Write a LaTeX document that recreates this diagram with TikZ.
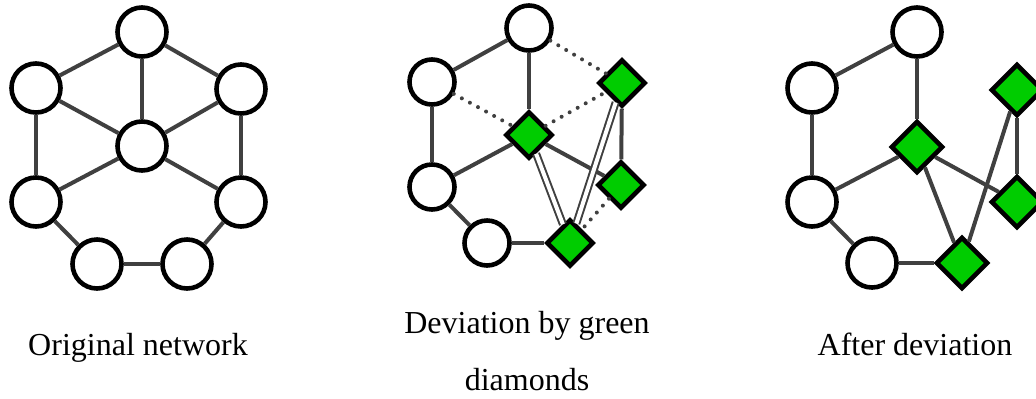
\documentclass[tikz,border=0pt]{standalone}
\usepackage{fontspec}
\setmainfont{Liberation Serif}
\usetikzlibrary{shapes.geometric}

\definecolor{devgreen}{RGB}{0,204,0}
\definecolor{edgegray}{RGB}{64,64,64}

\begin{document}
\begin{tikzpicture}[
  x=0.5pt, y=-0.5pt,
  vtx/.style={
    circle,
    draw=black,
    fill=white,
    line width=2.3pt,
    minimum size=24.5pt,
    inner sep=0pt
  },
  dev/.style={
    diamond,
    draw=black,
    fill=devgreen,
    line width=2.3pt,
    minimum size=26pt,
    inner sep=0pt
  },
  smallvtx/.style={vtx, minimum size=22.5pt},
  smalldev/.style={dev, minimum size=23.5pt},
  link/.style={draw=edgegray, line width=2pt},
  cut/.style={draw=edgegray, line width=2pt, line cap=round, dash pattern=on 0pt off 4.6pt},
  moved/.style={draw=edgegray, line width=1pt, double=white, double distance=2pt},
  caption/.style={font=\fontsize{16}{28.5}\selectfont, align=center, anchor=base}
]
\useasboundingbox (0,0) rectangle (1036,398);

% Original network
\node[vtx] (o1) at (142,32) {};
\node[vtx] (o2) at (36,88) {};
\node[vtx] (o3) at (241,89) {};
\node[vtx] (o4) at (142,146) {};
\node[vtx] (o5) at (36,202) {};
\node[vtx] (o6) at (241,202) {};
\node[vtx] (o7) at (97,264) {};
\node[vtx] (o8) at (187,264) {};

\draw[link] (o1) -- (o2);
\draw[link] (o1) -- (o3);
\draw[link] (o1) -- (o4);
\draw[link] (o2) -- (o4);
\draw[link] (o3) -- (o4);
\draw[link] (o2) -- (o5);
\draw[link] (o3) -- (o6);
\draw[link] (o4) -- (o5);
\draw[link] (o4) -- (o6);
\draw[link] (o5) -- (o7);
\draw[link] (o6) -- (o8);
\draw[link] (o7) -- (o8);

\node[caption] (lorig) at (138,355) {Original network};

% Deviation step
\node[smallvtx] (d1) at (529,28) {};
\node[smallvtx] (d2) at (432,82) {};
\node[smalldev] (d3) at (529,135) {};
\node[smalldev] (d4) at (622,83) {};
\node[smallvtx] (d5) at (432,187) {};
\node[smalldev] (d6) at (621,185) {};
\node[smallvtx] (d7) at (487,243) {};
\node[smalldev] (d8) at (570,243) {};

\draw[link] (d1) -- (d2);
\draw[link] (d1) -- (d3);
\draw[link] (d2) -- (d5);
\draw[link] (d3) -- (d5);
\draw[link] (d3) -- (d6);
\draw[link] (d4) -- (d6);
\draw[link] (d5) -- (d7);
\draw[link] (d7) -- (d8);
\draw[cut] (d1) -- (d4);
\draw[cut] (d2) -- (d3);
\draw[cut] (d3) -- (d4);
\draw[cut] (d6) -- (d8);
\draw[moved] (d3) -- (d8);
\draw[moved] (d4) -- (d8);

\node[caption] (ldev) at (527,390) {Deviation by green\\diamonds};

% Resulting network
\node[vtx] (a1) at (917,32) {};
\node[vtx] (a2) at (812,88) {};
\node[dev] (a3) at (917,147) {};
\node[dev] (a4) at (1017,90) {};
\node[vtx] (a5) at (812,202) {};
\node[dev] (a6) at (1017,202) {};
\node[vtx] (a7) at (872,263) {};
\node[dev] (a8) at (962,263) {};

\draw[link] (a1) -- (a2);
\draw[link] (a1) -- (a3);
\draw[link] (a2) -- (a5);
\draw[link] (a3) -- (a5);
\draw[link] (a3) -- (a6);
\draw[link] (a3) -- (a8);
\draw[link] (a4) -- (a6);
\draw[link] (a4) -- (a8);
\draw[link] (a5) -- (a7);
\draw[link] (a7) -- (a8);

\node[caption] (lafter) at (915,355) {After deviation};

\end{tikzpicture}
\end{document}
